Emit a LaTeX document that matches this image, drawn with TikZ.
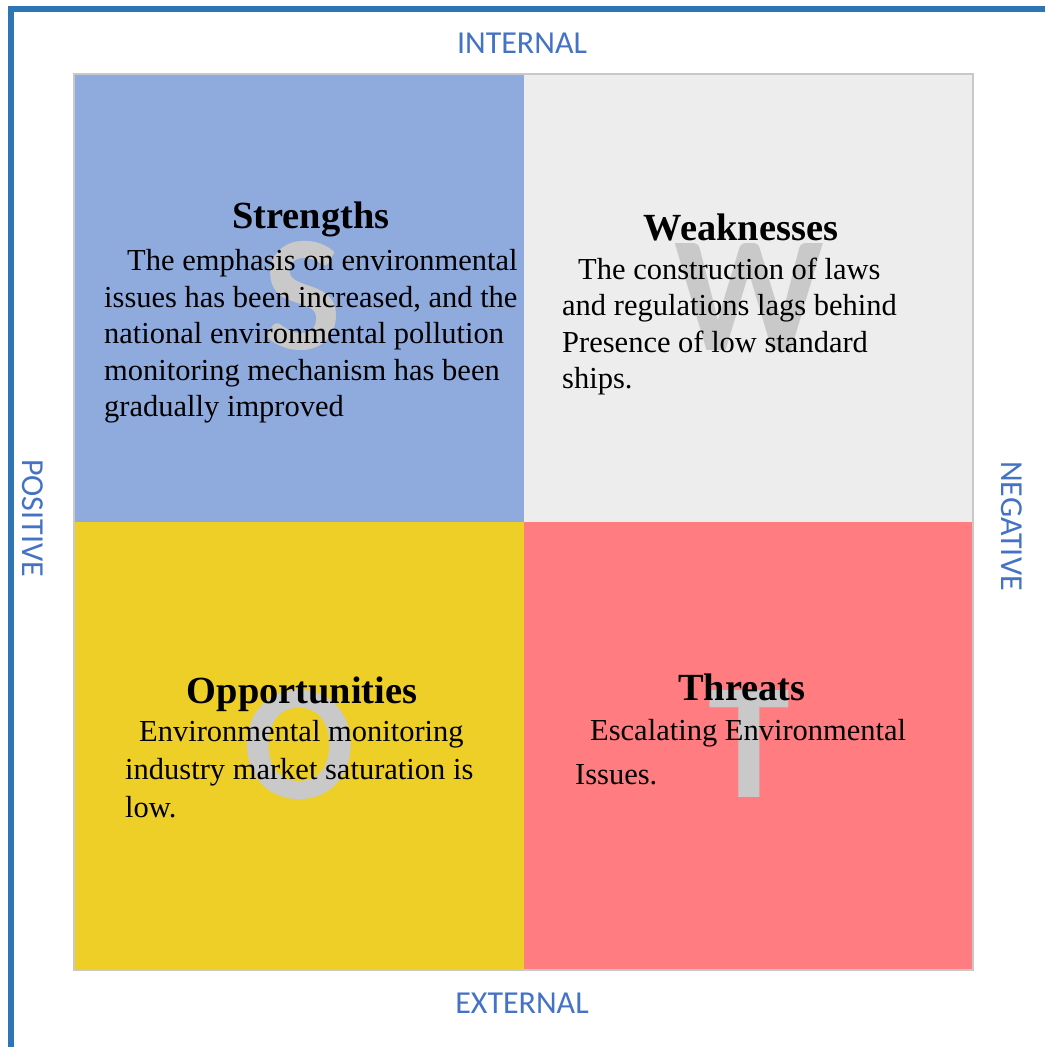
\documentclass[tikz,border=0pt]{standalone}
\usepackage{fontspec}
\setmainfont{Liberation Serif}
\newfontfamily\axisfont{Carlito}

\definecolor{frameblue}{HTML}{2E75B6}
\definecolor{axisblue}{HTML}{4472C4}
\definecolor{sfill}{HTML}{8FAADC}
\definecolor{wfill}{HTML}{EDEDED}
\definecolor{ofill}{HTML}{EECF27}
\definecolor{tfill}{HTML}{FF7C80}
\definecolor{lettergrey}{HTML}{C9C9C9}
\definecolor{edgegrey}{HTML}{C8C8C8}

\tikzset{
  quad/.style={inner sep=0pt, outer sep=0pt, minimum width=449.5pt, minimum height=448pt},
  bigletter/.style={inner sep=0pt, anchor=base, text=lettergrey,
    font=\axisfont\bfseries\fontsize{165}{165}\selectfont},
  title/.style={inner sep=0pt, anchor=base, font=\bfseries\fontsize{38.4}{46}\selectfont},
  body/.style={inner sep=0pt, anchor=base west, font=\fontsize{30.5}{37}\selectfont},
  axis/.style={inner sep=0pt, text=axisblue, font=\axisfont\fontsize{32}{38}\selectfont},
}

\begin{document}
\begin{tikzpicture}[x=1pt, y=-1pt]
\useasboundingbox (0,0) rectangle (1045,1047);

% page frame: left and top bars
\fill[frameblue] (8,6) rectangle (14,1047);
\fill[frameblue] (8,6) rectangle (1045,12);

% the four quadrants
\node[quad, fill=sfill, anchor=north west] (S) at (74,74) {};
\node[quad, fill=wfill, anchor=north east] (W) at (973,74) {};
\node[quad, fill=ofill, anchor=south west] (O) at (74,970) {};
\node[quad, fill=tfill, anchor=south east] (T) at (973,970) {};
\draw[edgegrey, line width=1.5pt] (S.north west) rectangle (T.south east);

% large background letters
\node[bigletter] (Sl) at (302,349) {S};
\node[bigletter] (Wl) at (749,350) {W};
\node[bigletter] (Ol) at (299,798) {O};
\node[bigletter] (Tl) at (749,797) {T};

% Strengths
\node[title] (St) at (311,228) {Strengths};
\node[body] (S1) at (127,270) {The emphasis on environmental};
\node[body] (S2) at (104,307) {issues has been increased, and the};
\node[body] (S3) at (104,343) {national environmental pollution};
\node[body] (S4) at (104,380) {monitoring mechanism has been};
\node[body] (S5) at (104,416) {gradually improved};

% Weaknesses
\node[title] (Wt) at (741,240) {Weaknesses};
\node[body] (W1) at (578,279) {The construction of laws};
\node[body] (W2) at (562,315) {and regulations lags behind};
\node[body] (W3) at (562,352) {Presence of low standard};
\node[body] (W4) at (562,388) {ships.};

% Opportunities
\node[title] (Ot) at (302,703) {Opportunities};
\node[body] (O1) at (139,741) {Environmental monitoring};
\node[body] (O2) at (125,779) {industry market saturation is};
\node[body] (O3) at (125,817) {low.};

% Threats
\node[title] (Tt) at (742,700) {Threats};
\node[body] (T1) at (590,740) {Escalating Environmental};
\node[body] (T2) at (575,784) {Issues.};

% axis labels
\node[axis] (int) at (522,43) {INTERNAL};
\node[axis] (ext) at (522,1003) {EXTERNAL};
\node[axis, rotate=-90] (pos) at (33,518) {POSITIVE};
\node[axis, rotate=-90] (neg) at (1012,526) {NEGATIVE};
\end{tikzpicture}
\end{document}
